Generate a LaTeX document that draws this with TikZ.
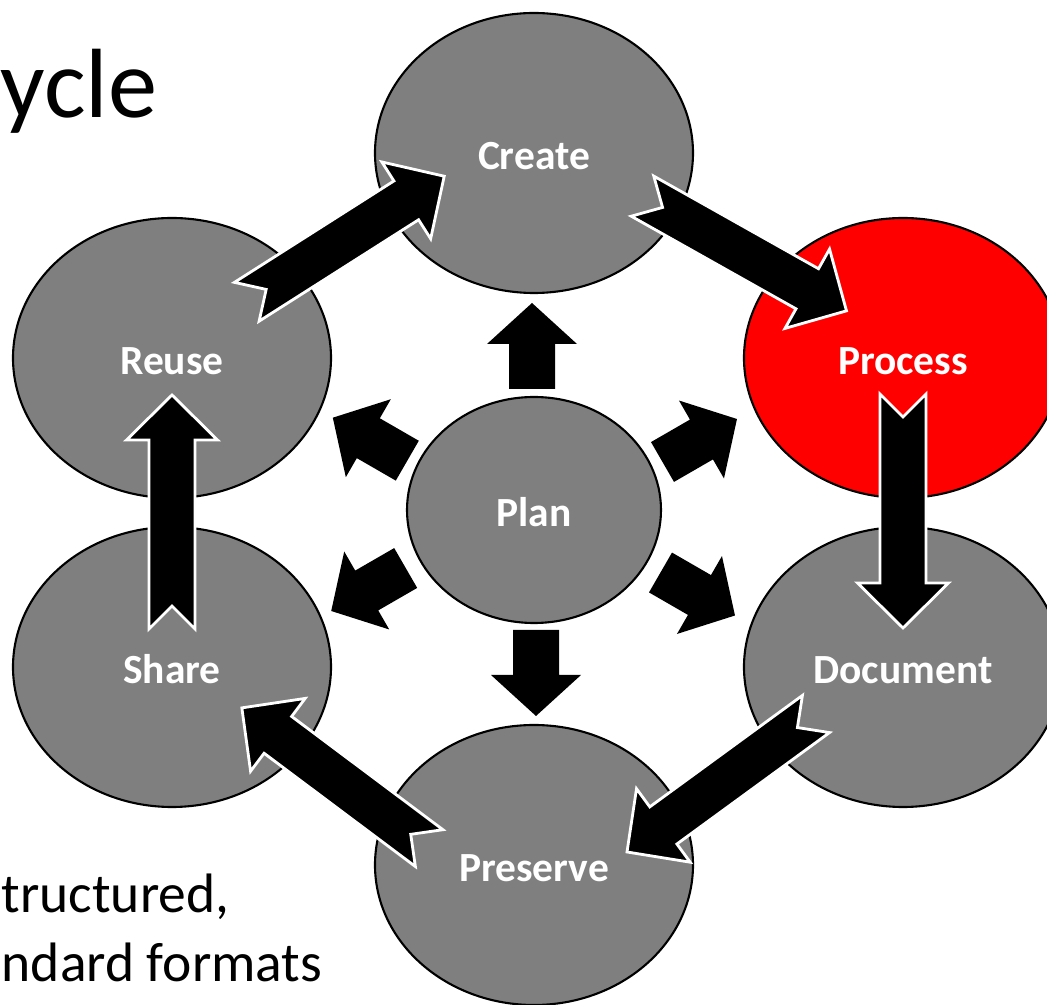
\documentclass[tikz,border=0pt]{standalone}
\usepackage{fontspec}
\setmainfont{Carlito}
\usetikzlibrary{shapes.geometric,calc}
\definecolor{stagegray}{HTML}{7F7F7F}
\definecolor{stagered}{HTML}{FF0000}
\begin{document}
\begin{tikzpicture}[
    stage/.style={ellipse, draw=black, line width=0.6pt, fill=stagegray,
      minimum width=3.18cm, minimum height=2.8cm, inner sep=0pt, text=white,
      text height=9.4pt, text depth=0pt,
      font=\bfseries\fontsize{11.8}{14}\selectfont},
    ringarrow/.pic={\filldraw[fill=black, draw=white, line width=0.8pt]
      (-1.17,0.23) -- (0.72,0.23) -- (0.72,0.455) -- (1.17,0) -- (0.72,-0.455)
      -- (0.72,-0.23) -- (-1.17,-0.23) -- (-0.94,0) -- cycle;},
    spoke/.pic={\fill[black] (0,0.23) -- (0.45,0.23) -- (0.45,0.45) -- (0.86,0)
      -- (0.45,-0.45) -- (0.45,-0.23) -- (0,-0.23) -- cycle;}]
  \useasboundingbox (0,0) rectangle (10.47,-10.05);
  \clip (0,0) rectangle (10.47,-10.05);
  \node (title) [anchor=base west, inner sep=0pt, font=\fontsize{28}{34}\selectfont]
    at (0,-1.18) {ycle};
  \node (note) [anchor=base west, inner sep=0pt, align=left,
    font=\fontsize{15.8}{19.9}\selectfont] at (0.01,-9.82) {tructured,\\ndard formats};
  \node (create) [stage] at (5.34,-1.53) {Create};
  \node (process) [stage, fill=stagered] at (9.03,-3.58) {Process};
  \node (document) [stage] at (9.03,-6.67) {Document};
  \node (preserve) [stage] at (5.34,-8.65) {Preserve};
  \node (share) [stage] at (1.72,-6.67) {Share};
  \node (reuse) [stage] at (1.72,-3.58) {Reuse};
  \node (plan) [stage, minimum width=2.54cm, minimum height=2.26cm] at (5.34,-5.10) {Plan};
  \pic [rotate=90] at ($(plan)+(-0.02,1.21)$) {spoke};
  \pic [rotate=30] at ($(plan)+(1.285,0.48)$) {spoke};
  \pic [rotate=-30] at ($(plan)+(1.265,-0.625)$) {spoke};
  \pic [rotate=-90] at ($(plan)+(0.02,-1.20)$) {spoke};
  \pic [rotate=210] at ($(plan)+(-1.283,-0.58)$) {spoke};
  \pic [rotate=150] at ($(plan)+(-1.267,0.493)$) {spoke};
  \path ($(reuse)+(0.76,0.57)$) -- ($(create)+(-0.91,-0.24)$)
          pic [midway, sloped, allow upside down] {ringarrow}
        ($(create)+(1.10,-0.44)$) -- ($(process)+(-0.58,0.48)$)
          pic [midway, sloped, allow upside down] {ringarrow}
        ($(process)+(0,-0.36)$) -- ($(document)+(0,0.39)$)
          pic [midway, sloped, allow upside down] {ringarrow}
        ($(document)+(-0.87,-0.47)$) -- ($(preserve)+(0.93,0.13)$)
          pic [midway, sloped, allow upside down] {ringarrow}
        ($(preserve)+(-1.05,0.17)$) -- ($(share)+(0.70,-0.41)$)
          pic [midway, sloped, allow upside down] {ringarrow}
        ($(share)+(0,0.37)$) -- ($(reuse)+(0,-0.36)$)
          pic [midway, sloped, allow upside down] {ringarrow};
\end{tikzpicture}
\end{document}
